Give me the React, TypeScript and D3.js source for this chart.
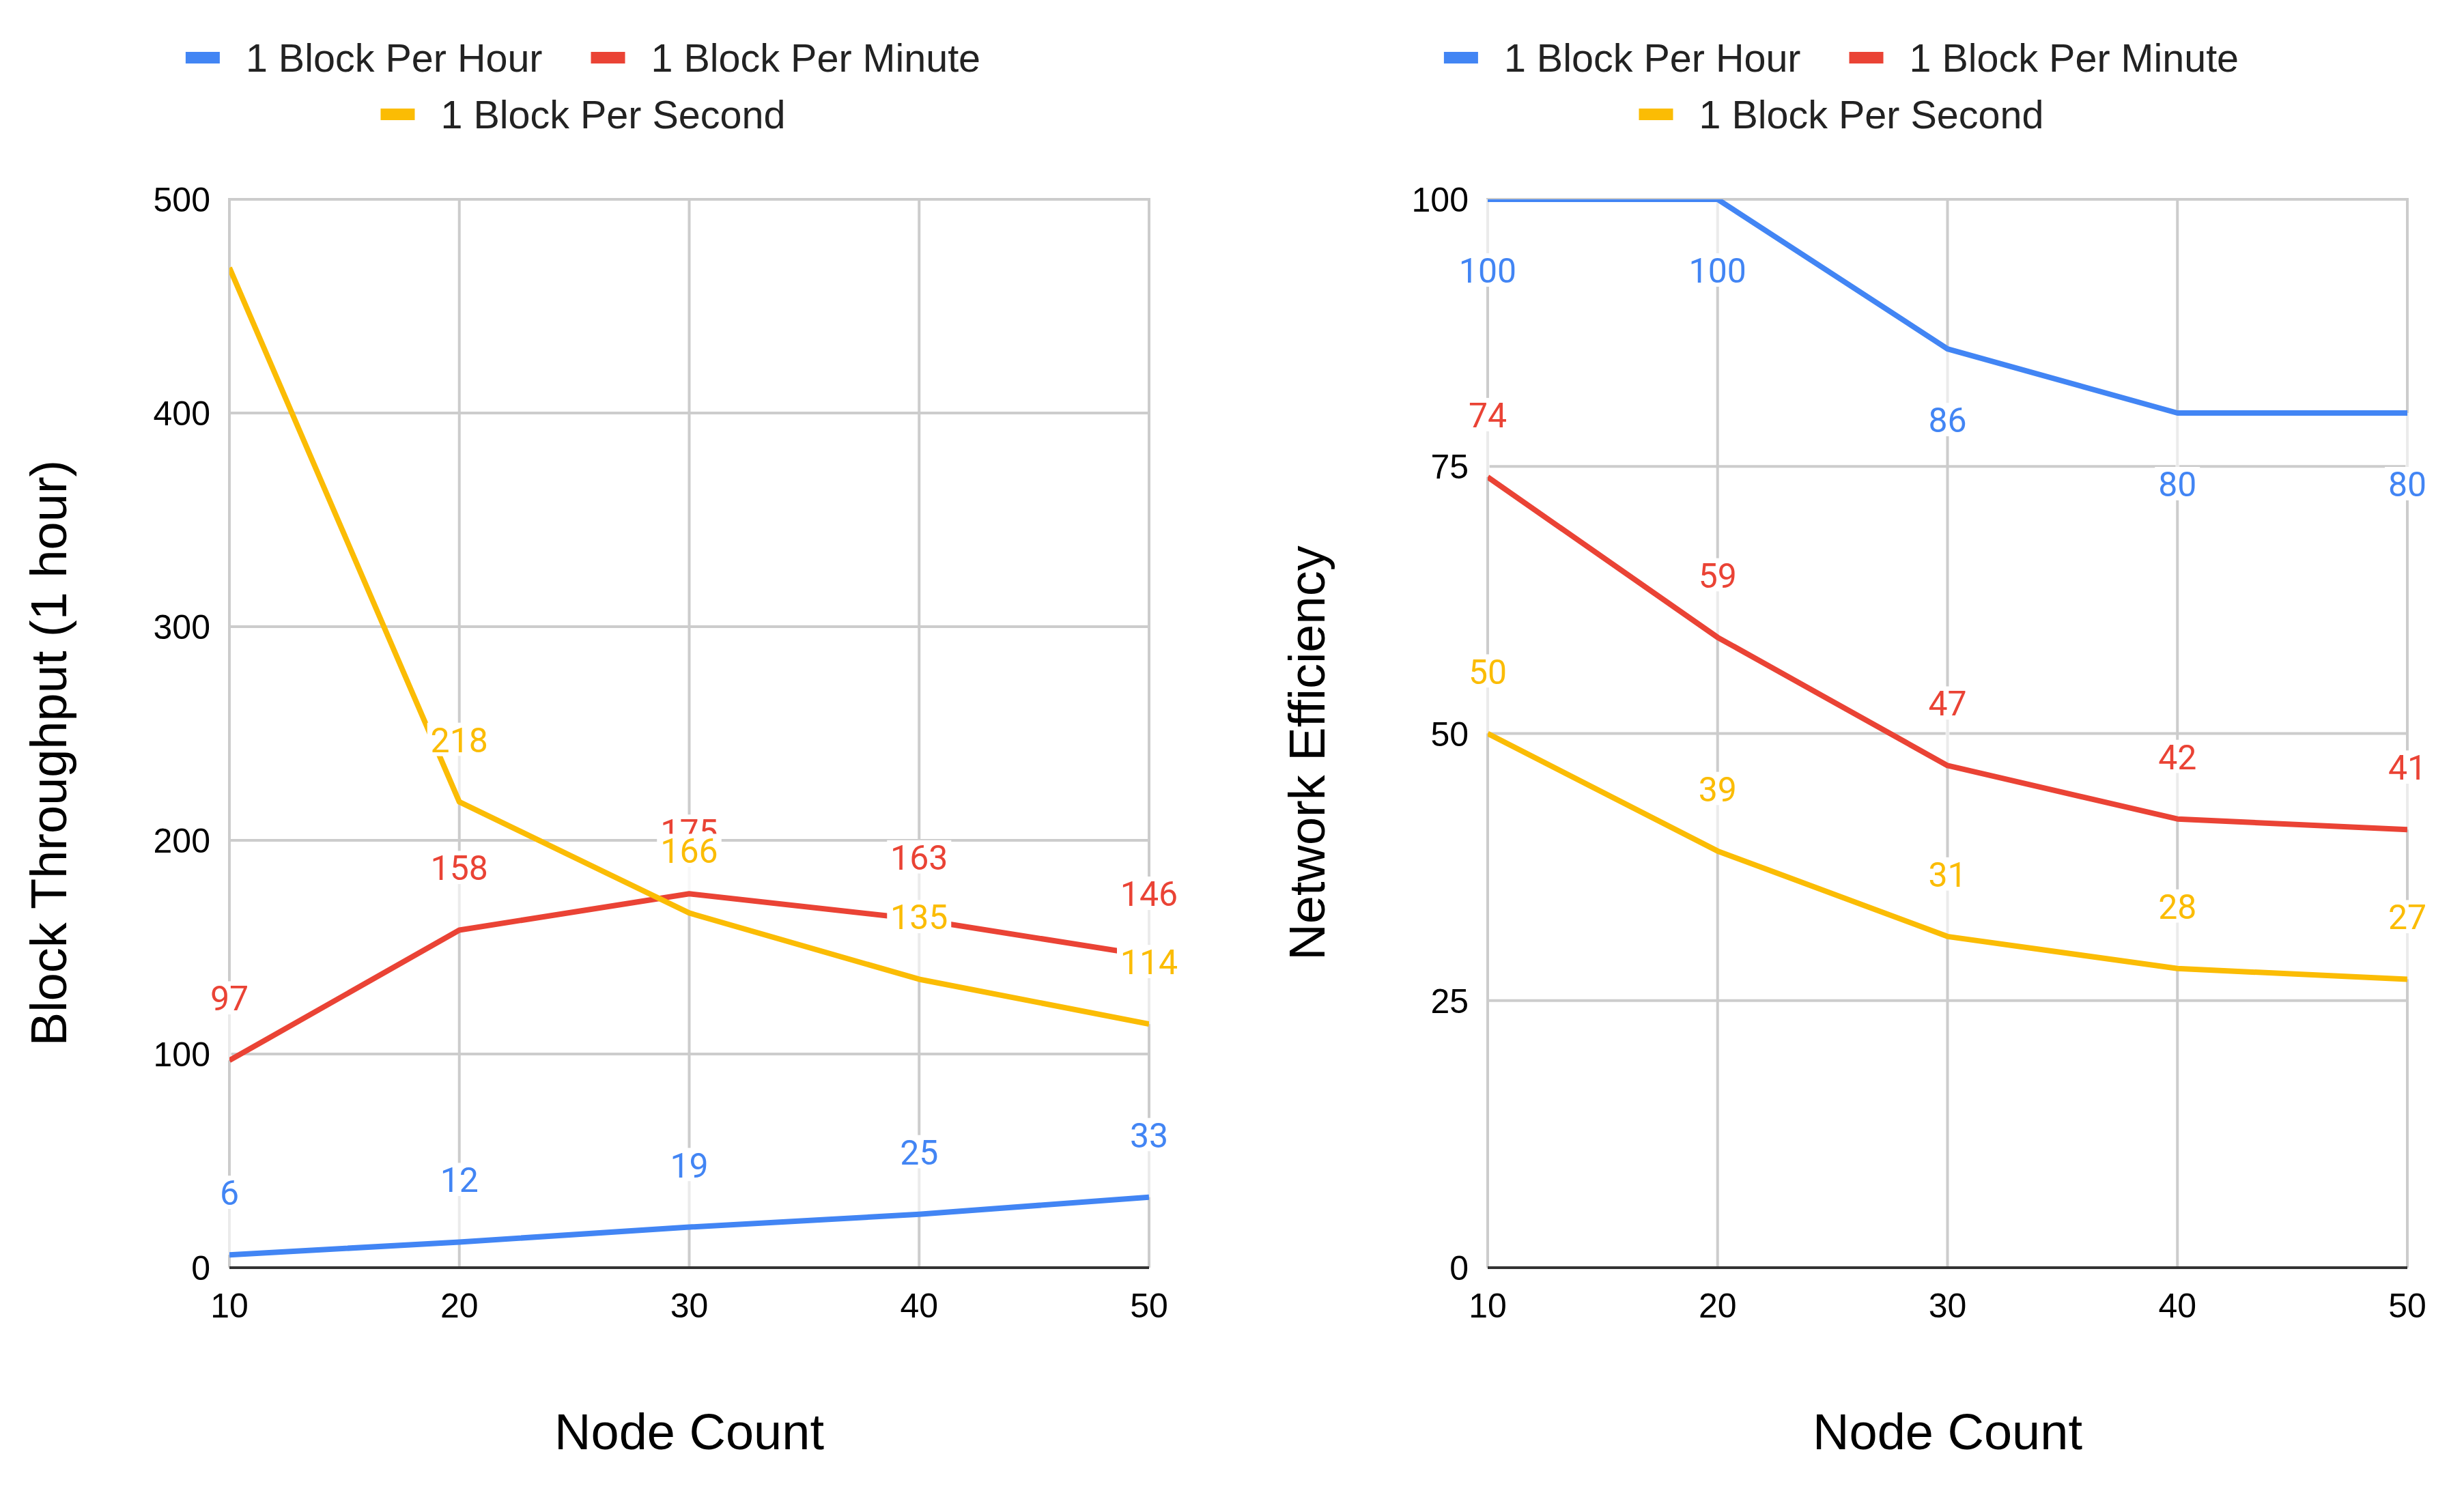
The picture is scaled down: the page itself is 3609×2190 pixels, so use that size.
import React, { useEffect, useRef } from 'react';
import * as d3 from 'd3';

// data
const nodeCounts = [10, 20, 30, 40, 50];
const seriesNames = ['1 Block Per Hour', '1 Block Per Minute', '1 Block Per Second'];
const seriesColors = ['#4285f4', '#ea4335', '#fbbc04'];

const throughputPerHour = [6, 12, 19, 25, 33];
const throughputPerMinute = [97, 158, 175, 163, 146];
const throughputPerSecond = [468, 218, 166, 135, 114];
const throughputTicks = [0, 100, 200, 300, 400, 500];

const efficiencyPerHour = [100, 100, 86, 80, 80];
const efficiencyPerMinute = [74, 59, 47, 42, 41];
const efficiencyPerSecond = [50, 39, 31, 28, 27];
const efficiencyTicks = [0, 25, 50, 75, 100];

const WIDTH = 3609;
const HEIGHT = 2190;
const PANEL_OFFSET = 1843;
const ARIAL = "Arial, 'Liberation Sans', sans-serif";
const ROBOTO = "Roboto, 'Noto Sans', sans-serif";

interface PanelSpec {
  id: string;
  yTitle: string;
  ticks: number[];
  series: number[][];
  labelBelow: boolean[];
}

const panels: PanelSpec[] = [
  {
    id: 'throughput',
    yTitle: 'Block Throughput (1 hour)',
    ticks: throughputTicks,
    series: [throughputPerHour, throughputPerMinute, throughputPerSecond],
    labelBelow: [false, false, false],
  },
  {
    id: 'efficiency',
    yTitle: 'Network Efficiency',
    ticks: efficiencyTicks,
    series: [efficiencyPerHour, efficiencyPerMinute, efficiencyPerSecond],
    labelBelow: [true, false, false],
  },
];

const drawPanel = (
  svg: d3.Selection<SVGSVGElement, unknown, null, undefined>,
  spec: PanelSpec,
  dx: number
) => {
  const margin = { left: 336, right: 1683, top: 292, bottom: 1857 };
  const g = svg.append('g').attr('transform', `translate(${dx},0)`);

  const x = d3
    .scaleLinear()
    .domain([nodeCounts[0], nodeCounts[nodeCounts.length - 1]])
    .range([margin.left, margin.right]);
  const y = d3
    .scaleLinear()
    .domain([spec.ticks[0], spec.ticks[spec.ticks.length - 1]])
    .range([margin.bottom, margin.top]);

  // clip for the series lines
  const clipId = `clip-${spec.id}`;
  g.append('clipPath')
    .attr('id', clipId)
    .append('rect')
    .attr('x', margin.left)
    .attr('y', margin.top)
    .attr('width', margin.right - margin.left)
    .attr('height', margin.bottom - margin.top);

  // gridlines
  g.append('g')
    .selectAll('line')
    .data(spec.ticks.slice(1))
    .join('line')
    .attr('x1', margin.left)
    .attr('x2', margin.right)
    .attr('y1', d => y(d))
    .attr('y2', d => y(d))
    .attr('stroke', '#cccccc')
    .attr('stroke-width', 4);

  g.append('g')
    .selectAll('line')
    .data(nodeCounts)
    .join('line')
    .attr('x1', d => x(d))
    .attr('x2', d => x(d))
    .attr('y1', margin.top - 2)
    .attr('y2', margin.bottom)
    .attr('stroke', '#cccccc')
    .attr('stroke-width', 4);

  // baseline
  g.append('line')
    .attr('x1', margin.left)
    .attr('x2', margin.right)
    .attr('y1', y(0))
    .attr('y2', y(0))
    .attr('stroke', '#333333')
    .attr('stroke-width', 4);

  // tick labels
  g.append('g')
    .selectAll('text')
    .data(spec.ticks)
    .join('text')
    .attr('x', margin.left - 28)
    .attr('y', d => y(d) + 18)
    .attr('text-anchor', 'end')
    .attr('font-family', ARIAL)
    .attr('font-size', 50)
    .attr('fill', '#000')
    .text(d => String(d));

  g.append('g')
    .selectAll('text')
    .data(nodeCounts)
    .join('text')
    .attr('x', d => x(d))
    .attr('y', 1930)
    .attr('text-anchor', 'middle')
    .attr('font-family', ARIAL)
    .attr('font-size', 50)
    .attr('fill', '#000')
    .text(d => String(d));

  // axis titles
  g.append('text')
    .attr('x', (margin.left + margin.right) / 2)
    .attr('y', 2123)
    .attr('text-anchor', 'middle')
    .attr('font-family', ARIAL)
    .attr('font-size', 74)
    .attr('fill', '#000')
    .text('Node Count');

  g.append('text')
    .attr('transform', 'translate(97,1103) rotate(-90)')
    .attr('text-anchor', 'middle')
    .attr('font-family', ARIAL)
    .attr('font-size', 74)
    .attr('fill', '#000')
    .text(spec.yTitle);

  // data labels: position + visibility
  type Label = { cx: number; py: number; base: number; text: string; color: string; below: boolean };
  const labels: Label[] = [];
  spec.series.forEach((values, si) => {
    values.forEach((v, i) => {
      const below = spec.labelBelow[si];
      const py = y(v);
      const base = below ? py + 122 : py - 73;
      if (base - 37 < margin.top) return; // would fall outside chart area
      labels.push({ cx: x(nodeCounts[i]), py, base, text: String(v), color: seriesColors[si], below });
    });
  });

  // label stems (lighten the gridline between label and point)
  g.append('g')
    .selectAll('line')
    .data(labels)
    .join('line')
    .attr('x1', d => d.cx)
    .attr('x2', d => d.cx)
    .attr('y1', d => d.py)
    .attr('y2', d => (d.below ? d.base - 43 : d.base + 6))
    .attr('stroke', '#ffffff')
    .attr('stroke-opacity', 0.6)
    .attr('stroke-width', 6);

  // series lines
  const line = d3
    .line<number>()
    .x((d, i) => x(nodeCounts[i]))
    .y(d => y(d));

  const lines = g.append('g').attr('clip-path', `url(#${clipId})`);
  spec.series.forEach((values, si) => {
    lines
      .append('path')
      .datum(values)
      .attr('fill', 'none')
      .attr('stroke', seriesColors[si])
      .attr('stroke-width', 8)
      .attr('stroke-linejoin', 'round')
      .attr('d', line);
  });

  // labels with white boxes
  const lg = g.append('g');
  labels.forEach(d => {
    const w = d.text.length * 28 + 10;
    lg.append('rect')
      .attr('x', d.cx - w / 2)
      .attr('y', d.base - 43)
      .attr('width', w)
      .attr('height', 49)
      .attr('fill', '#ffffff');
    lg.append('text')
      .attr('x', d.cx)
      .attr('y', d.base)
      .attr('text-anchor', 'middle')
      .attr('font-family', ROBOTO)
      .attr('font-size', 50)
      .attr('fill', d.color)
      .text(d.text);
  });

  // legend: two rows centred on the panel
  const legend = g.append('g');
  const swatchW = 50;
  const swatchH = 17;
  const textGap = 38;
  const itemGap = 71;
  const center = 854;
  const fontSize = 57.5;
  const rows = [
    { items: [0, 1], baseline: 105 },
    { items: [2], baseline: 188 },
  ];
  rows.forEach(row => {
    const widths = row.items.map(si => {
      const t = legend
        .append('text')
        .attr('font-family', ARIAL)
        .attr('font-size', fontSize)
        .attr('visibility', 'hidden')
        .text(seriesNames[si]);
      const len = (t.node() as SVGTextElement).getComputedTextLength();
      t.remove();
      return len;
    });
    const total =
      d3.sum(widths, w => swatchW + textGap + w) + itemGap * (row.items.length - 1);
    let cursor = center - total / 2;
    row.items.forEach((si, k) => {
      legend
        .append('rect')
        .attr('x', cursor)
        .attr('y', row.baseline - 29)
        .attr('width', swatchW)
        .attr('height', swatchH)
        .attr('fill', seriesColors[si]);
      legend
        .append('text')
        .attr('x', cursor + swatchW + textGap)
        .attr('y', row.baseline)
        .attr('font-family', ARIAL)
        .attr('font-size', fontSize)
        .attr('fill', '#222222')
        .text(seriesNames[si]);
      cursor += swatchW + textGap + widths[k] + itemGap;
    });
  });
};

const App: React.FC = () => {
  const svgRef = useRef<SVGSVGElement>(null);

  useEffect(() => {
    if (!svgRef.current) return;
    const svg = d3.select(svgRef.current);
    svg.selectAll('*').remove();

    svg.append('rect').attr('width', WIDTH).attr('height', HEIGHT).attr('fill', '#ffffff');

    panels.forEach((spec, i) => drawPanel(svg, spec, i * PANEL_OFFSET));
  }, []);

  return (
    <div style={{ position: 'absolute', left: 0, top: 0, width: WIDTH, height: HEIGHT }}>
      <svg ref={svgRef} width={WIDTH} height={HEIGHT} style={{ display: 'block' }} />
    </div>
  );
};

export default App;
